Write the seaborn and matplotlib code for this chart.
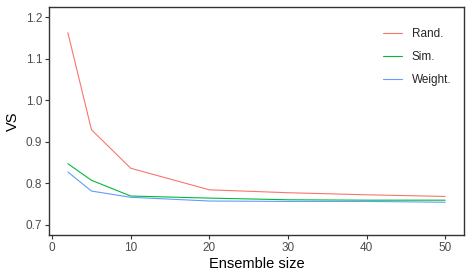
import pandas as pd
import matplotlib
matplotlib.use("Agg")
import matplotlib.pyplot as plt
import seaborn as sns

# Datos
ensemble_size = [2, 5, 10, 20, 30, 40, 50]
vs_rand = [1.163, 0.929, 0.836, 0.784, 0.777, 0.772, 0.768]
vs_sim = [0.847, 0.807, 0.769, 0.764, 0.760, 0.759, 0.759]
vs_weight = [0.827, 0.781, 0.766, 0.757, 0.756, 0.756, 0.754]
methods = ["Rand.", "Sim.", "Weight."]
colors = ["#F8766D", "#00BA38", "#619CFF"]

df = pd.concat([
    pd.DataFrame({"size": ensemble_size, "vs": v, "method": m})
    for m, v in zip(methods, [vs_rand, vs_sim, vs_weight])
])

sns.set_theme(style="white")
plt.rcParams["font.family"] = ["Liberation Sans", "DejaVu Sans"]

fig = plt.figure(figsize=(4.72, 2.8), dpi=100)
ax = fig.add_axes([49 / 472, 1 - 235 / 280, 415 / 472, 228 / 280])

sns.lineplot(data=df, x="size", y="vs", hue="method", hue_order=methods,
             palette=colors, linewidth=0.8, ax=ax)

ax.set_xlim(-0.4, 52.4)
ax.set_ylim(0.675, 1.225)
ax.set_xticks([0, 10, 20, 30, 40, 50])
ax.set_yticks([0.7, 0.8, 0.9, 1.0, 1.1, 1.2])
ax.set_yticklabels(["0.7", "0.8", "0.9", "1.0", "1.1", "1.2"])
ax.set_xlabel("Ensemble size", fontsize=10.5, color="black", labelpad=2)
ax.set_ylabel("VS", fontsize=10.5, color="black", labelpad=4)
ax.tick_params(axis="both", direction="out", length=3, width=0.8,
               color="#333333", labelcolor="#4D4D4D", labelsize=8.5, pad=2,
               bottom=True, left=True)
for s in ax.spines.values():
    s.set_color("#333333")
    s.set_linewidth(1.0)

ax.legend(loc="upper left", bbox_to_anchor=(0.79, 0.935), frameon=False,
          fontsize=8.5, handlelength=1.6, handletextpad=0.85,
          labelspacing=0.95, borderpad=0, title=None)

fig.savefig("out.png", dpi=100)
